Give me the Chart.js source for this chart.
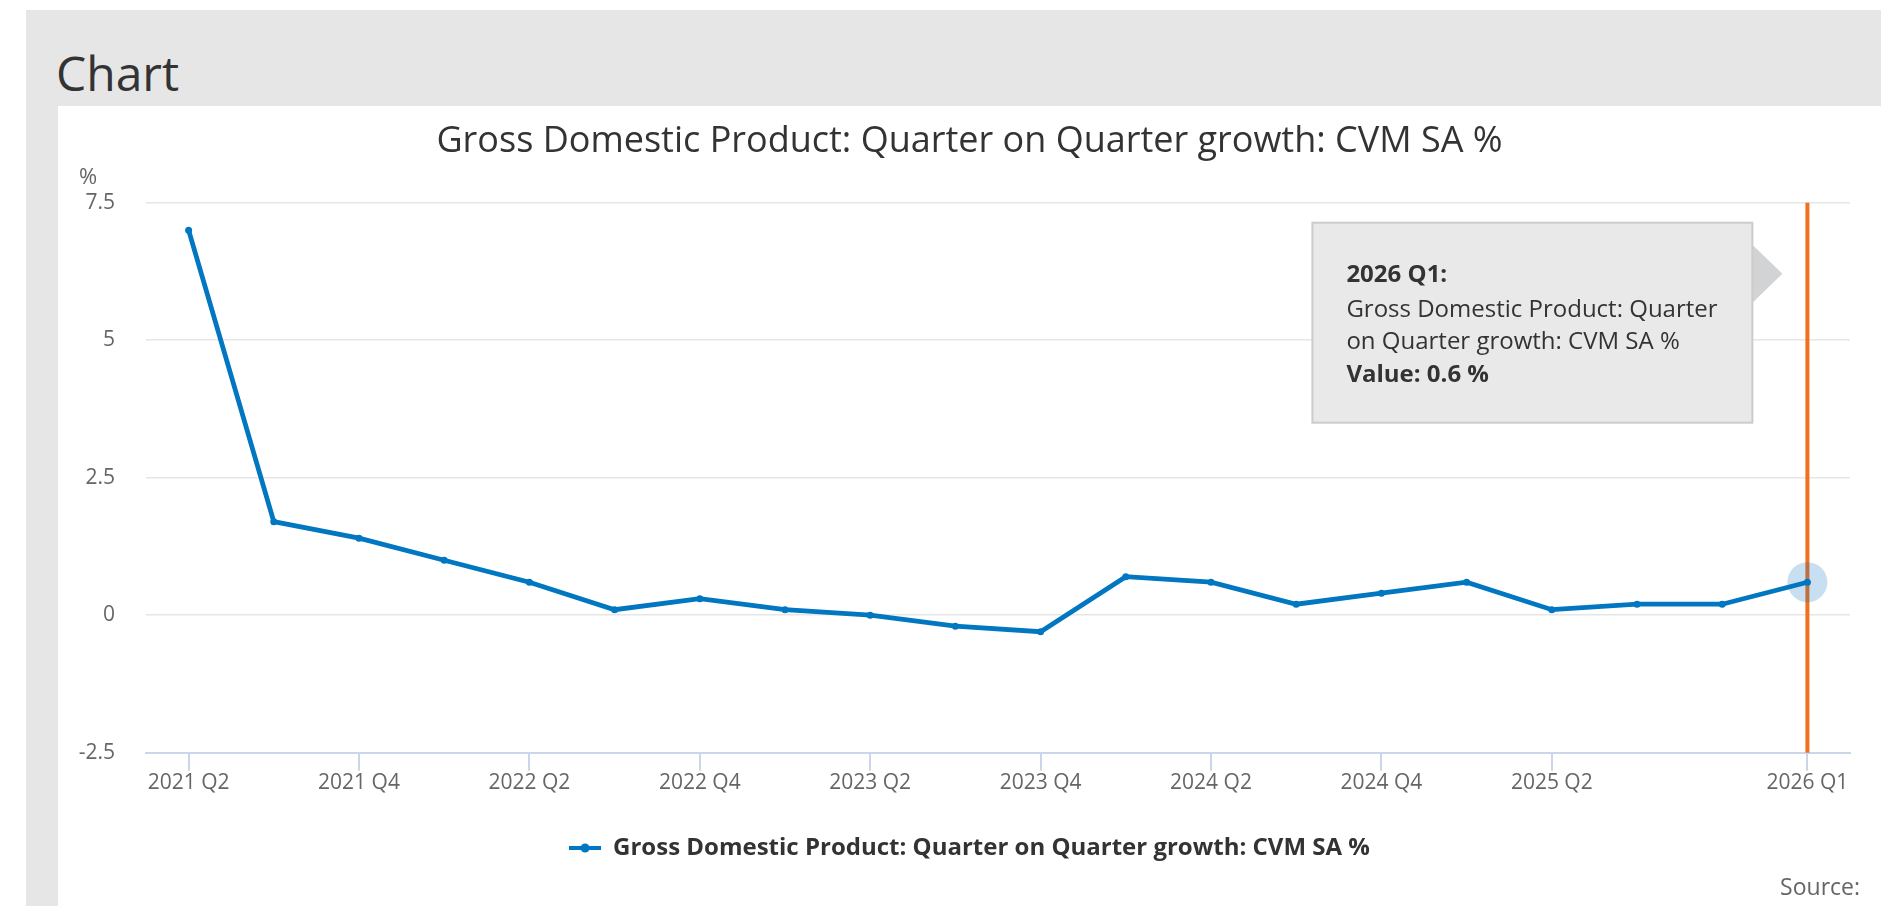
<!DOCTYPE html>
<html lang="en">
<head>
<meta charset="utf-8">
<title>Chart</title>
<script src="https://cdn.jsdelivr.net/npm/chart.js@4.4.1/dist/chart.umd.min.js"></script>
<style>
  html, body { margin: 0; padding: 0; background: #fff; }
  body { width: 1900px; height: 918px; position: relative; overflow: hidden; font-family: 'Open Sans', sans-serif; }
  .band { position: absolute; left: 26px; top: 10px; width: 1855px; height: 96px; background: #e6e6e6; }
  .strip { position: absolute; left: 26px; top: 10px; width: 32px; height: 896px; background: #e6e6e6; }
  .heading { position: absolute; left: 56px; top: 49px; margin: 0; font-size: 48px; line-height: 48px; font-weight: 400; color: #333; }
  .chart-box { position: absolute; left: 58px; top: 106px; width: 1823px; height: 800px; }
</style>
</head>
<body>
<div class="band"></div>
<div class="strip"></div>
<h2 class="heading">Chart</h2>
<div class="chart-box"><canvas id="gdp"></canvas></div>

<script>
'use strict';

// quarters on the x axis
const quarters = [
  '2021 Q2', '2021 Q3', '2021 Q4',
  '2022 Q1', '2022 Q2', '2022 Q3', '2022 Q4',
  '2023 Q1', '2023 Q2', '2023 Q3', '2023 Q4',
  '2024 Q1', '2024 Q2', '2024 Q3', '2024 Q4',
  '2025 Q1', '2025 Q2', '2025 Q3', '2025 Q4',
  '2026 Q1',
];

// quarter on quarter growth, %
const growth = [
  7.0, 1.7, 1.4,
  1.0, 0.6, 0.1, 0.3,
  0.1, 0.0, -0.2, -0.3,
  0.7, 0.6, 0.2, 0.4,
  0.6, 0.1, 0.2, 0.2,
  0.6,
];

// quarters that carry a label under the axis
const tickLabels = [
  '2021 Q2', '2021 Q4', '2022 Q2', '2022 Q4', '2023 Q2',
  '2023 Q4', '2024 Q2', '2024 Q4', '2025 Q2', '2026 Q1',
];

const yTicks = [-2.5, 0, 2.5, 5, 7.5];

const seriesName = 'Gross Domestic Product: Quarter on Quarter growth: CVM SA %';
const unitLabel = '%';
const sourceLabel = 'Source:';
const hoverIndex = quarters.length - 1;

const BLUE = '#0077c0';
const FONT = "'Open Sans', sans-serif";

/**
 * Small line-with-dot icon for the legend.
 * @returns {HTMLCanvasElement}
 */
function legendIcon() {
  const c = document.createElement('canvas');
  c.width = 32;
  c.height = 12;
  const g = c.getContext('2d');
  g.strokeStyle = BLUE;
  g.lineWidth = 4;
  g.beginPath();
  g.moveTo(0, 6);
  g.lineTo(32, 6);
  g.stroke();
  g.fillStyle = BLUE;
  g.beginPath();
  g.arc(16, 6, 4.5, 0, Math.PI * 2);
  g.fill();
  return c;
}

/**
 * Split text into lines no wider than maxWidth.
 */
function wrap(ctx, text, maxWidth) {
  const words = text.split(' ');
  const lines = [];
  let line = '';
  for (const w of words) {
    const next = line ? line + ' ' + w : w;
    if (ctx.measureText(next).width > maxWidth && line) {
      lines.push(line);
      line = w;
    } else {
      line = next;
    }
  }
  if (line) lines.push(line);
  return lines;
}

// crosshair, halo, tooltip, unit label and source line
const hoverPlugin = {
  id: 'hoverMarks',
  beforeDatasetsDraw(chart) {
    const { ctx, chartArea } = chart;
    const pt = chart.getDatasetMeta(0).data[hoverIndex];
    ctx.save();
    ctx.strokeStyle = '#f07020';
    ctx.lineWidth = 4;
    ctx.beginPath();
    ctx.moveTo(pt.x, chartArea.top);
    ctx.lineTo(pt.x, chartArea.bottom);
    ctx.stroke();
    ctx.fillStyle = 'rgba(0, 110, 190, 0.22)';
    ctx.beginPath();
    ctx.arc(pt.x, pt.y, 20, 0, Math.PI * 2);
    ctx.fill();
    ctx.restore();
  },
  afterDraw(chart) {
    const { ctx, chartArea } = chart;
    const pt = chart.getDatasetMeta(0).data[hoverIndex];
    ctx.save();

    // unit label above the y axis
    ctx.font = `22px ${FONT}`;
    ctx.fillStyle = '#666';
    ctx.textAlign = 'left';
    ctx.textBaseline = 'alphabetic';
    ctx.fillText(unitLabel, chartArea.left - 67, chartArea.top - 19);

    // source line
    ctx.font = `23px ${FONT}`;
    ctx.textAlign = 'right';
    ctx.fillText(sourceLabel, chart.width - 21, chart.height - 11);

    // tooltip
    const boxW = 440, boxH = 200;
    const bx = pt.x - 55 - boxW;
    const by = chartArea.top + 20;
    ctx.fillStyle = '#d2d3d5';
    ctx.beginPath();
    ctx.moveTo(bx + boxW, by + 22);
    ctx.lineTo(pt.x - 25, by + 51);
    ctx.lineTo(bx + boxW, by + 80);
    ctx.closePath();
    ctx.fill();
    ctx.fillStyle = '#e9e9e9';
    ctx.fillRect(bx, by, boxW, boxH);
    ctx.strokeStyle = '#cccccc';
    ctx.lineWidth = 2;
    ctx.strokeRect(bx, by, boxW, boxH);

    const tx = bx + 34;
    ctx.textAlign = 'left';
    ctx.fillStyle = '#333';
    ctx.font = `bold 24px ${FONT}`;
    ctx.fillText(quarters[hoverIndex] + ':', tx, by + 59);
    ctx.font = `24px ${FONT}`;
    const nameLines = wrap(ctx, seriesName, 385);
    let y = by + 94;
    for (const l of nameLines) {
      ctx.fillText(l, tx, y);
      y += 32;
    }
    ctx.font = `bold 24px ${FONT}`;
    ctx.fillText(`Value: ${growth[hoverIndex]} %`, tx, y + 1);
    ctx.restore();
  },
};

new Chart(document.getElementById('gdp'), {
  type: 'line',
  data: {
    labels: quarters,
    datasets: [{
      label: seriesName,
      data: growth,
      borderColor: BLUE,
      backgroundColor: BLUE,
      borderWidth: 4.8,
      tension: 0,
      pointRadius: 3.5,
      pointBorderWidth: 0,
      pointBackgroundColor: BLUE,
    }],
  },
  options: {
    responsive: true,
    maintainAspectRatio: false,
    animation: false,
    events: [],
    layout: { padding: { left: 0, right: 0, top: 0, bottom: 36 } },
    plugins: {
      title: {
        display: true,
        text: seriesName,
        color: '#333',
        font: { family: FONT, size: 36, weight: 'normal' },
        padding: { top: 14.4, bottom: 39.1 },
      },
      legend: {
        position: 'bottom',
        labels: {
          usePointStyle: true,
          pointStyle: legendIcon(),
          pointStyleWidth: 32,
          boxHeight: 24,
          padding: 10,
          color: '#333',
          font: { family: FONT, size: 24, weight: 'bold' },
        },
      },
      tooltip: { enabled: false },
    },
    scales: {
      x: {
        offset: true,
        afterFit: (scale) => { scale.height = 73.3; },
        grid: {
          offset: false,
          drawOnChartArea: false,
          drawTicks: true,
          tickLength: 18,
          lineWidth: 2,
          color: (c) => (tickLabels.includes(quarters[c.index]) ? '#ccd6eb' : 'rgba(0,0,0,0)'),
        },
        border: { display: true, color: '#ccd6eb', width: 2 },
        ticks: {
          autoSkip: false,
          maxRotation: 0,
          padding: 0,
          color: '#666',
          font: { family: FONT, size: 21 },
          callback(value) {
            const q = this.getLabelForValue(value);
            return tickLabels.includes(q) ? q : '';
          },
        },
      },
      y: {
        min: yTicks[0],
        max: yTicks[yTicks.length - 1],
        afterFit: (scale) => { scale.width = 88; },
        afterBuildTicks: (scale) => { scale.ticks = yTicks.map(v => ({ value: v })); },
        grid: { color: '#e6e6e6', lineWidth: 1.5, drawTicks: false },
        border: { display: false },
        ticks: {
          padding: 31,
          color: '#666',
          font: { family: FONT, size: 21 },
          callback: (v) => String(v),
        },
      },
      // empty right-hand gutter so title and legend stay centred on the panel
      gutter: {
        type: 'linear',
        position: 'right',
        afterFit: (scale) => { scale.width = 31; },
        grid: { display: false },
        border: { display: false },
        ticks: { display: false },
      },
    },
  },
  plugins: [hoverPlugin],
});
</script>
</body>
</html>
